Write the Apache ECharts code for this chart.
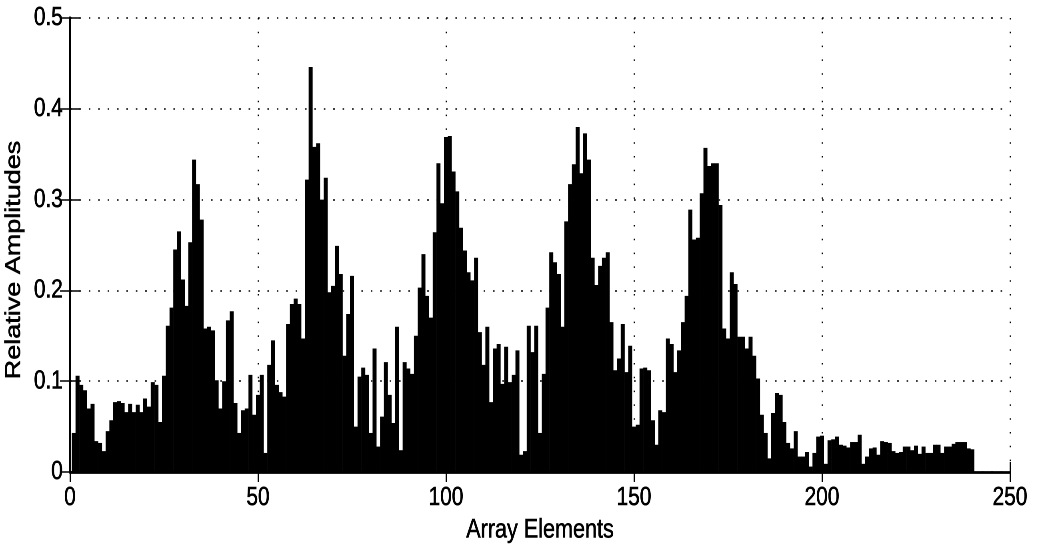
<!DOCTYPE html>
<html>
<head>
<meta charset="utf-8">
<script src="https://cdn.jsdelivr.net/npm/echarts@6/dist/echarts.min.js"></script>
<style>
  html, body { margin: 0; padding: 0; background: #fff; overflow: hidden; }
  #wrap { width: 1039px; height: 555px; overflow: hidden; position: relative; }
  #chart { width: 1299px; height: 555px; transform: scaleX(0.8); transform-origin: 0 0; }
</style>
</head>
<body>
<div id="wrap"><div id="chart"></div></div>
<script>
// Array element indices (1..240)
const elementCount = 240;
const elements = [];
for (let i = 1; i <= elementCount; i++) elements.push(i);

// Relative amplitude of each array element
const amplitudes = [
  0.043, 0.106, 0.096, 0.090, 0.070, 0.075, 0.034, 0.032, 0.023, 0.045,
  0.057, 0.077, 0.078, 0.076, 0.066, 0.075, 0.066, 0.074, 0.066, 0.081,
  0.072, 0.099, 0.096, 0.055, 0.106, 0.161, 0.181, 0.245, 0.265, 0.212,
  0.183, 0.253, 0.344, 0.317, 0.278, 0.158, 0.160, 0.156, 0.101, 0.070,
  0.100, 0.167, 0.177, 0.076, 0.043, 0.068, 0.070, 0.107, 0.063, 0.085,
  0.107, 0.021, 0.118, 0.145, 0.096, 0.088, 0.083, 0.163, 0.185, 0.191,
  0.185, 0.147, 0.322, 0.446, 0.358, 0.362, 0.300, 0.324, 0.198, 0.205,
  0.249, 0.218, 0.128, 0.174, 0.216, 0.050, 0.105, 0.115, 0.107, 0.043,
  0.136, 0.028, 0.061, 0.121, 0.085, 0.054, 0.160, 0.024, 0.121, 0.114,
  0.108, 0.150, 0.203, 0.240, 0.194, 0.170, 0.264, 0.340, 0.296, 0.369,
  0.370, 0.331, 0.309, 0.269, 0.244, 0.220, 0.211, 0.236, 0.154, 0.118,
  0.160, 0.077, 0.136, 0.141, 0.097, 0.138, 0.099, 0.107, 0.134, 0.019,
  0.023, 0.161, 0.132, 0.161, 0.043, 0.108, 0.181, 0.242, 0.231, 0.218,
  0.160, 0.276, 0.317, 0.339, 0.380, 0.329, 0.373, 0.344, 0.236, 0.206,
  0.227, 0.236, 0.242, 0.165, 0.112, 0.125, 0.163, 0.110, 0.139, 0.050,
  0.052, 0.114, 0.115, 0.112, 0.057, 0.030, 0.068, 0.066, 0.147, 0.141,
  0.110, 0.134, 0.165, 0.194, 0.289, 0.256, 0.258, 0.307, 0.357, 0.337,
  0.340, 0.340, 0.294, 0.158, 0.147, 0.220, 0.207, 0.149, 0.149, 0.136,
  0.149, 0.128, 0.103, 0.063, 0.043, 0.015, 0.065, 0.087, 0.085, 0.055,
  0.032, 0.026, 0.045, 0.017, 0.017, 0.022, 0.006, 0.021, 0.039, 0.040,
  0.009, 0.035, 0.036, 0.039, 0.030, 0.029, 0.027, 0.033, 0.033, 0.041,
  0.009, 0.017, 0.026, 0.027, 0.019, 0.034, 0.033, 0.032, 0.023, 0.021,
  0.022, 0.028, 0.028, 0.024, 0.029, 0.020, 0.028, 0.021, 0.021, 0.030,
  0.030, 0.021, 0.028, 0.028, 0.031, 0.033, 0.033, 0.033, 0.026, 0.025
];

const xTitle = 'Array Elements';
const yTitle = 'Relative Amplitudes';
const xMin = 0, xMax = 250, xStep = 50;
const yMin = 0, yMax = 0.5, yStep = 0.1;

const FONT = "'Liberation Sans', Arial, Helvetica, sans-serif";
const chart = echarts.init(document.getElementById('chart'), null, { renderer: 'canvas', devicePixelRatio: 2 });

const seriesData = elements.map((e, i) => [e, amplitudes[i]]);

const labelStyle = { color: '#000', fontFamily: FONT, textBorderColor: '#000', textBorderWidth: 0.6 };

chart.setOption({
  animation: false,
  backgroundColor: '#ffffff',
  grid: { left: 87.5, right: 36.5, top: 18, bottom: 83, containLabel: false, outerBoundsMode: 'none' },
  xAxis: [
    {
      type: 'value', min: xMin, max: xMax, interval: xStep, position: 'bottom',
      axisLine: { show: true, lineStyle: { color: '#000', width: 2.5 } },
      axisTick: { show: true, inside: true, length: 10, lineStyle: { color: '#000', width: 2 } },
      axisLabel: Object.assign({ show: true, margin: 13, fontSize: 26 }, labelStyle),
      splitLine: { show: true, lineStyle: { color: '#000', width: 2, type: [1.5, 12.3] } },
      name: xTitle, nameLocation: 'middle', nameGap: 37,
      nameTextStyle: Object.assign({ fontSize: 27 }, labelStyle)
    },
    {
      type: 'value', min: xMin, max: xMax, interval: xStep, position: 'top',
      axisLine: { show: true, lineStyle: { color: '#000', width: 2.5 } },
      axisTick: { show: true, inside: true, length: 10, lineStyle: { color: '#000', width: 2 } },
      axisLabel: { show: false },
      splitLine: { show: false }
    }
  ],
  yAxis: [
    {
      type: 'value', min: yMin, max: yMax, interval: yStep, position: 'left',
      axisLine: { show: true, lineStyle: { color: '#000', width: 3 } },
      axisTick: { show: true, inside: true, length: 12.5, lineStyle: { color: '#000', width: 1.5 } },
      axisLabel: Object.assign({ show: true, margin: 9, fontSize: 26 }, labelStyle),
      splitLine: { show: true, lineStyle: { color: '#000', width: 1.5, type: [2, 9.75] } },
      name: yTitle, nameLocation: 'middle', nameRotate: 90, nameGap: 37,
      nameTextStyle: Object.assign({ fontSize: 27, padding: [0, 30, 0, 0] }, labelStyle)
    },
    {
      type: 'value', min: yMin, max: yMax, interval: yStep, position: 'right',
      axisLine: { show: true, lineStyle: { color: '#000', width: 3 } },
      axisTick: { show: true, inside: true, length: 12.5, lineStyle: { color: '#000', width: 1.5 } },
      axisLabel: { show: false },
      splitLine: { show: false }
    }
  ],
  series: [
    {
      type: 'bar',
      xAxisIndex: 0, yAxisIndex: 0,
      data: seriesData,
      barWidth: 5,
      itemStyle: { color: '#000' },
      silent: true
    }
  ]
});
</script>
</body>
</html>
